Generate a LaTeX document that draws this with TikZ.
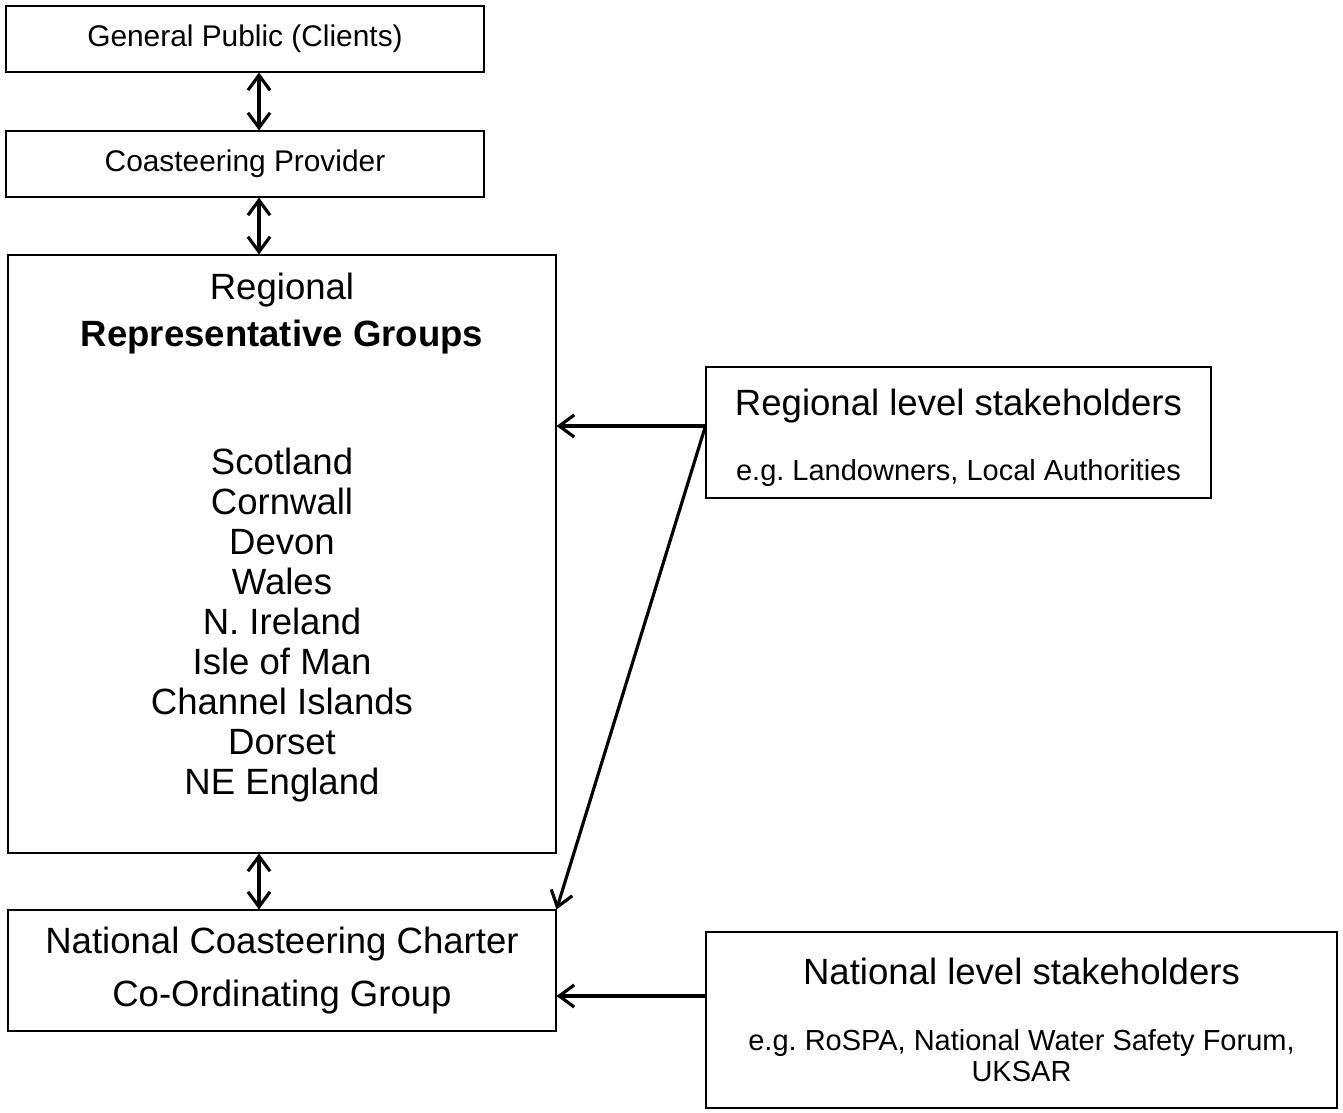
\documentclass[tikz,border=0pt]{standalone}
\usepackage{fontspec}
\setmainfont{Liberation Sans}
\usetikzlibrary{arrows.meta}
\frenchspacing
\newcommand\bigtxt{\fontsize{20.8}{22.8}\selectfont}
\newcommand\toptxt{\fontsize{17}{19.5}\selectfont}
\newcommand\smalltxt{\fontsize{16.5}{17.5}\selectfont}

\begin{document}
\begin{tikzpicture}[>={Straight Barb[length=0.3cm,width=0.44cm]},
  orgbox/.style={draw,line width=0.6pt,align=center,inner sep=0pt},
  link/.style={line width=1.8pt}]
  \useasboundingbox (0,0) rectangle (26.86,-22.26);

  % left column
  \node[orgbox,font=\toptxt,minimum width=9.56cm,minimum height=1.32cm] (gp) at (4.90,-0.78)
    {General Public (Clients)};
  \node[orgbox,font=\toptxt,minimum width=9.56cm,minimum height=1.32cm] (cp) at (4.90,-3.28)
    {Coasteering Provider};
  \node[orgbox,font=\bigtxt,minimum width=10.96cm,minimum height=11.96cm] (reg) at (5.64,-11.08)
    {Regional\\[0.14cm]
     \textbf{Representative Groups}\\[1.75cm]
     Scotland\\Cornwall\\Devon\\Wales\\N. Ireland\\Isle of Man\\Channel Islands\\Dorset\\NE England\\ ~};
  \node[orgbox,font=\bigtxt,minimum width=10.96cm,minimum height=2.42cm] (ncc) at (5.64,-19.41)
    {National Coasteering Charter\\[0.25cm]Co-Ordinating Group};

  % stakeholders
  \node[orgbox,font=\smalltxt,minimum width=10.1cm,minimum height=2.62cm] (rs) at (19.17,-8.65)
    {~\\[0.14cm]{\bigtxt Regional level stakeholders}\\[0.69cm]e.g. Landowners, Local Authorities};
  \node[orgbox,font=\smalltxt,minimum width=12.62cm,minimum height=3.52cm] (ns) at (20.43,-20.40)
    {{\bigtxt National level stakeholders}\\[0.7cm]e.g. RoSPA, National Water Safety Forum,\\UKSAR};

  % connectors
  \coordinate (ax) at (5.18,0);
  \draw[<->,link] (gp.south -| ax) -- (cp.north -| ax);
  \draw[<->,link] (cp.south -| ax) -- (reg.north -| ax);
  \draw[<->,link] (reg.south -| ax) -- (ncc.north -| ax);
  \draw[->,link] ([yshift=0.13cm]rs.west) coordinate (rsout) -- (rsout -| reg.east);
  \draw[->,link] (rsout) -- (ncc.north east);
  \draw[->,link] ([yshift=0.48cm]ns.west) coordinate (nsout) -- (nsout -| ncc.east);
\end{tikzpicture}
\end{document}
